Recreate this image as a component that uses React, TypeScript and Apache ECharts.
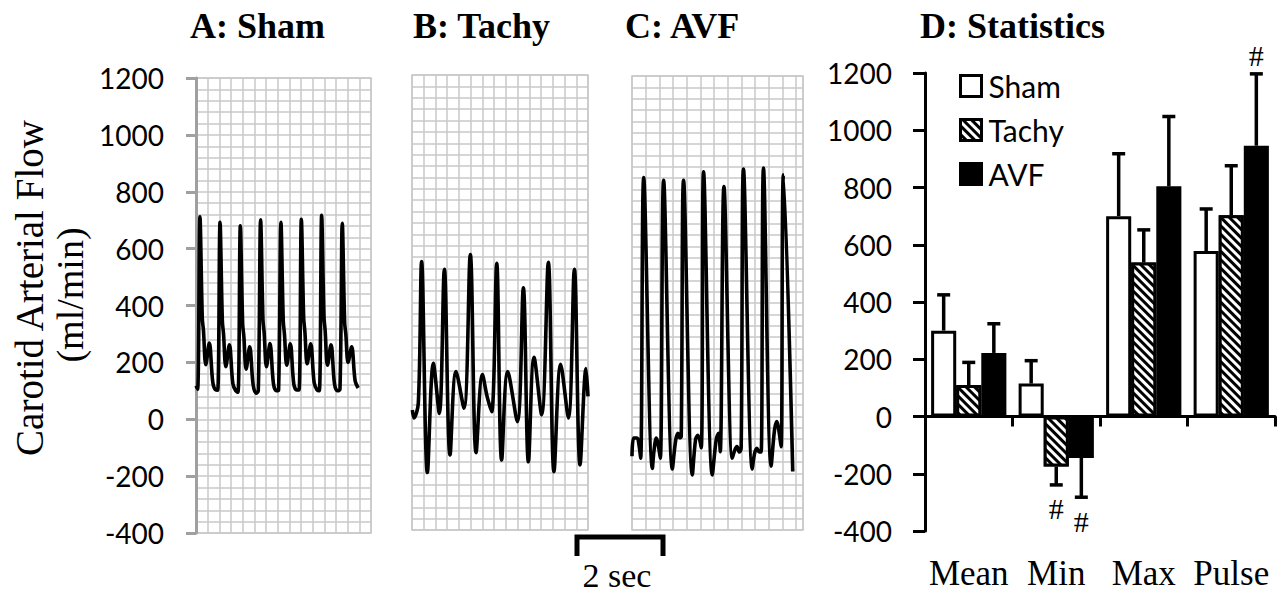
import React, { useEffect, useRef } from "react";
import * as echarts from "echarts";

// ---- Tick values shared by every flow axis ----
const flowMin = -400;
const flowMax = 1200;
const flowStep = 200;

// ---- Panel A: Sham trace (x in grid divisions, y in ml/min) ----
const shamTrace: [number, number][] = [
  [0.0, 118], [0.14, 106], [0.34, 712], [0.54, 355], [0.64, 312], [0.84, 192], [1.14, 268], [1.44, 130], [1.69, 103],
  [1.86, 102], [2.06, 693], [2.26, 345], [2.36, 300], [2.56, 185], [2.86, 262], [3.16, 125], [3.41, 100],
  [3.6, 95], [3.8, 680], [4.0, 335], [4.1, 292], [4.3, 176], [4.6, 255], [4.9, 120], [5.15, 92],
  [5.34, 100], [5.54, 701], [5.74, 350], [5.84, 305], [6.04, 185], [6.34, 266], [6.64, 125], [6.89, 100],
  [7.08, 103], [7.28, 693], [7.48, 345], [7.58, 300], [7.78, 190], [8.08, 265], [8.38, 125], [8.63, 103],
  [8.83, 103], [9.03, 703], [9.23, 355], [9.33, 310], [9.53, 195], [9.83, 265], [10.13, 128], [10.38, 103],
  [10.57, 100], [10.77, 717], [10.97, 360], [11.07, 312], [11.27, 190], [11.57, 262], [11.87, 125], [12.12, 100],
  [12.34, 105], [12.54, 689], [12.74, 340], [12.84, 300], [13.04, 200], [13.34, 255], [13.64, 135], [13.9, 110],
];

// ---- Panel B: Tachy trace ----
const tachyTrace: [number, number][] = [
  [0.03, 22], [0.17, -6], [0.54, 47], [0.82, 544], [1.31, -198], [1.82, 186], [2.33, 10],
  [2.76, 517], [3.24, -136], [3.75, 157], [4.43, 28], [4.97, 569], [5.46, -128], [6.0, 147],
  [6.4, 70], [6.79, 16], [7.22, 538], [7.64, -154], [8.16, 157], [8.98, -19], [9.49, 452],
  [9.92, -160], [10.4, 207], [11.05, 5], [11.62, 541], [12.1, -195], [12.67, 183], [13.33, -6],
  [13.84, 517], [14.32, -171], [14.83, 168], [15.0, 70],
];

// ---- Panel C: AVF trace ----
const avfTrace: [number, number][] = [
  [0.0, -140], [0.12, -76], [0.37, -76], [0.51, -100], [0.635, -147], [0.854, 842],
  [1.49, -183], [1.61, -120], [1.78, -76], [1.9, -95], [2.07, -147], [2.31, 832],
  [2.95, -185], [3.19, -85], [3.36, -59], [3.5, -75], [3.6, -70], [3.77, 832],
  [4.41, -206], [4.65, -80], [4.82, -66], [5.06, -110], [5.23, 862],
  [5.87, -206], [6.16, -80], [6.33, -59], [6.45, -124], [6.72, 810],
  [7.33, -147], [7.5, -120], [7.67, -106], [7.85, -125], [7.98, -110], [8.15, 872],
  [8.79, -185], [8.96, -130], [9.13, -112], [9.3, -125], [9.44, -125], [9.61, 876],
  [10.17, -175], [10.42, -47], [10.59, -18], [10.73, -47], [10.9, -106], [11.07, 852],
  [11.75, -194],
];

// ---- Panel D: statistics ----
const statCategories = ["Mean", "Min", "Max", "Pulse"];
const shamMeans = [300, 115, 700, 578];
const tachyMeans = [110, -175, 538, 703];
const avfMeans = [222, -145, 804, 946];
const shamErr = [125, 80, 218, 147];
const tachyErr = [79, 64, 114, 173];
const avfErr = [102, 137, 244, 251];
const shamSig = [0, 0, 0, 0];
const tachySig = [0, 1, 0, 0];
const avfSig = [0, 1, 0, 1];

const GRID_COLOR = "#c8c8c8";
const SERIF = "'Liberation Serif', 'Times New Roman', serif";
const SANS = "Lato, 'Noto Sans', sans-serif";
const CAT_GAP = 0.14;
const plainNumber = (v: number) => String(v);

function traceAxes(gridIndex: number, xMax: number, withLabels: boolean) {
  const x = {
    gridIndex,
    type: "value",
    min: 0,
    max: xMax,
    interval: 1,
    axisLine: { show: false },
    axisTick: { show: false },
    axisLabel: { show: false },
    splitLine: { show: true, lineStyle: { color: GRID_COLOR, width: 1.5 } },
  };
  const y = {
    gridIndex,
    type: "value",
    min: flowMin,
    max: flowMax,
    interval: flowStep,
    axisLine: { show: withLabels, onZero: false, lineStyle: { color: "#a0a0a0", width: 3 } },
    axisTick: { show: withLabels, length: 10, lineStyle: { color: "#a0a0a0", width: 3 } },
    axisLabel: { show: withLabels, fontFamily: SANS, fontSize: 28, color: "#000", margin: 32, formatter: plainNumber },
    splitLine: { show: true, lineStyle: { color: GRID_COLOR, width: 1.5 } },
    minorTick: { show: false, splitNumber: 5 },
    minorSplitLine: { show: true, lineStyle: { color: GRID_COLOR, width: 1.5 } },
  };
  return { x, y };
}

export default function App() {
  const ref = useRef<HTMLDivElement>(null);
  useEffect(() => {
    if (!ref.current) return;
    const chart = echarts.init(ref.current, null, { renderer: "svg" });
    const a = traceAxes(0, 15, true);
    const b = traceAxes(1, 15, false);
    const c = traceAxes(2, 12.5, false);

    const errorData: number[][] = [];
    shamMeans.forEach((v, i) => errorData.push([i, v, shamErr[i], 0, shamSig[i]]));
    tachyMeans.forEach((v, i) => errorData.push([i, v, tachyErr[i], 1, tachySig[i]]));
    avfMeans.forEach((v, i) => errorData.push([i, v, avfErr[i], 2, avfSig[i]]));

    const lineStyle = { color: "#000", width: 3.6 };
    const traceSeries = (idx: number, data: [number, number][]) => ({
      type: "line",
      xAxisIndex: idx,
      yAxisIndex: idx,
      data,
      showSymbol: false,
      smooth: 0.35,
      lineStyle,
      silent: true,
    });

    const option: any = {
      animation: false,
      backgroundColor: "#fff",
      grid: [
        { left: 196, top: 78, width: 175, height: 455, show: true, borderColor: GRID_COLOR, borderWidth: 1.5 },
        { left: 412, top: 75, width: 176, height: 455, show: true, borderColor: GRID_COLOR, borderWidth: 1.5 },
        { left: 632, top: 76, width: 171, height: 454, show: true, borderColor: GRID_COLOR, borderWidth: 1.5 },
        { left: 925, top: 73, width: 350, height: 458 },
      ],
      xAxis: [
        a.x,
        b.x,
        c.x,
        {
          gridIndex: 3,
          type: "category",
          data: statCategories,
          axisLine: { show: true, onZero: true, lineStyle: { color: "#000", width: 3 } },
          axisTick: { show: true, length: 10, lineStyle: { color: "#000", width: 3 } },
          axisLabel: { show: false },
          splitLine: { show: false },
        },
        {
          gridIndex: 3,
          type: "category",
          position: "bottom",
          data: statCategories,
          axisLine: { show: false, onZero: false },
          axisTick: { show: false },
          axisLabel: {
            show: true,
            interval: 0,
            fontFamily: SERIF,
            fontSize: 35,
            lineHeight: 30,
            color: "#000",
            margin: 27,
          },
          splitLine: { show: false },
        },
      ],
      yAxis: [
        a.y,
        b.y,
        c.y,
        {
          gridIndex: 3,
          type: "value",
          min: flowMin,
          max: flowMax,
          interval: flowStep,
          axisLine: { show: true, lineStyle: { color: "#000", width: 3 } },
          axisTick: { show: true, length: 12, lineStyle: { color: "#000", width: 3 } },
          axisLabel: { fontFamily: SANS, fontSize: 28, color: "#000", margin: 33, formatter: plainNumber },
          splitLine: { show: false },
        },
      ],
      legend: {
        data: ["Sham", "Tachy", "AVF"],
        orient: "vertical",
        left: 954,
        top: 66,
        itemWidth: 21,
        itemHeight: 21,
        itemGap: 14,
        icon: "rect",
        itemStyle: { borderColor: "#000", borderWidth: 3 },
        textStyle: { fontFamily: SANS, fontSize: 30, color: "#000", padding: [0, 0, 0, 2] },
        selectedMode: false,
      },
      series: [
        traceSeries(0, shamTrace),
        traceSeries(1, tachyTrace),
        traceSeries(2, avfTrace),
        {
          name: "Sham",
          type: "bar",
          xAxisIndex: 3,
          yAxisIndex: 3,
          data: shamMeans,
          barGap: "0%",
          barCategoryGap: CAT_GAP * 100 + "%",
          itemStyle: { color: "#fff", borderColor: "#000", borderWidth: 3 },
        },
        {
          name: "Tachy",
          type: "bar",
          xAxisIndex: 3,
          yAxisIndex: 3,
          data: tachyMeans,
          barGap: "0%",
          barCategoryGap: CAT_GAP * 100 + "%",
          itemStyle: {
            color: "#000",
            borderColor: "#000",
            borderWidth: 3,
            decal: {
              symbol: "rect",
              symbolSize: 1,
              color: "#fff",
              dashArrayX: [1, 0],
              dashArrayY: [2.5, 2.5],
              rotation: Math.PI / 4,
            },
          },
        },
        {
          name: "AVF",
          type: "bar",
          xAxisIndex: 3,
          yAxisIndex: 3,
          data: avfMeans,
          barGap: "0%",
          barCategoryGap: CAT_GAP * 100 + "%",
          itemStyle: { color: "#000", borderColor: "#000", borderWidth: 3 },
        },
        {
          type: "custom",
          xAxisIndex: 3,
          yAxisIndex: 3,
          data: errorData,
          z: 10,
          silent: true,
          renderItem: (params: any, api: any) => {
            const cat = api.value(0);
            const val = api.value(1);
            const err = api.value(2);
            const grp = api.value(3);
            const sig = api.value(4);
            const base = api.coord([cat, val]);
            const band = api.size([1, 0])[0];
            const barW = (band * (1 - CAT_GAP)) / 3;
            const x = base[0] + (grp - 1) * barW;
            const end = api.coord([cat, val + (val >= 0 ? err : -err)]);
            const y0 = base[1];
            const y1 = end[1];
            const st = { stroke: "#000", lineWidth: 3.5 };
            const children: any[] = [
              { type: "line", shape: { x1: x, y1: y0, x2: x, y2: y1 }, style: st },
              { type: "line", shape: { x1: x - 6.5, y1: y1, x2: x + 6.5, y2: y1 }, style: st },
            ];
            if (sig) {
              children.push({
                type: "text",
                style: {
                  text: "#",
                  x,
                  y: val >= 0 ? y1 - 18 : y1 + 24,
                  fontFamily: SERIF,
                  fontSize: 30,
                  fill: "#000",
                  align: "center",
                  verticalAlign: "middle",
                },
              });
            }
            return { type: "group", children };
          },
        },
      ],
      graphic: [
        { type: "text", left: 190, top: 8, style: { text: "A: Sham", fontFamily: SERIF, fontWeight: "bold", fontSize: 36, fill: "#000" } },
        { type: "text", left: 413, top: 8, style: { text: "B: Tachy", fontFamily: SERIF, fontWeight: "bold", fontSize: 36, fill: "#000" } },
        { type: "text", left: 625, top: 8, style: { text: "C: AVF", fontFamily: SERIF, fontWeight: "bold", fontSize: 36, fill: "#000" } },
        { type: "text", left: 920, top: 8, style: { text: "D: Statistics", fontFamily: SERIF, fontWeight: "bold", fontSize: 36, fill: "#000" } },
        {
          type: "text",
          x: 29,
          y: 288,
          rotation: Math.PI / 2,
          style: { text: "Carotid Arterial Flow", fontFamily: SERIF, fontSize: 39, fill: "#000", align: "center", verticalAlign: "middle" },
        },
        {
          type: "text",
          x: 70,
          y: 295,
          rotation: Math.PI / 2,
          style: { text: "(ml/min)", fontFamily: SERIF, fontSize: 38, fill: "#000", align: "center", verticalAlign: "middle" },
        },
        {
          type: "polyline",
          shape: { points: [[577, 556], [577, 537], [663, 537], [663, 556]] },
          style: { stroke: "#000", lineWidth: 5, fill: null },
        },
        {
          type: "text",
          x: 617,
          y: 575,
          style: { text: "2 sec", fontFamily: SERIF, fontSize: 34, fill: "#000", align: "center", verticalAlign: "middle" },
        },
      ],
    };
    chart.setOption(option);
    return () => chart.dispose();
  }, []);
  return (
    <div
      ref={ref}
      style={{ position: "absolute", left: 0, top: 0, width: 1280, height: 592, background: "#fff" }}
    />
  );
}
